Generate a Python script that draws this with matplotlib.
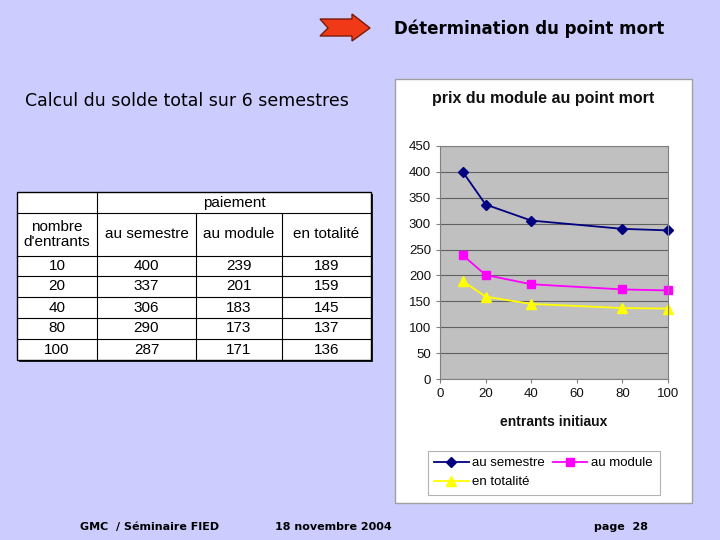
import matplotlib
matplotlib.use('Agg')
import matplotlib.pyplot as plt
from matplotlib.patches import Rectangle, Polygon

# Données du tableau / graphique
entrants = [10, 20, 40, 80, 100]
au_semestre = [400, 337, 306, 290, 287]
au_module = [239, 201, 183, 173, 171]
en_totalite = [189, 159, 145, 137, 136]
col_titres = ["au semestre", "au module", "en totalité"]
y_ticks = [0, 50, 100, 150, 200, 250, 300, 350, 400, 450]
x_ticks = [0, 20, 40, 60, 80, 100]

W, H = 720, 540
bg = '#CCCCFF'
fig = plt.figure(figsize=(W / 100, H / 100), dpi=100, facecolor=bg)

# Calque en pixels pour le texte de la diapo
ov = fig.add_axes([0, 0, 1, 1])
ov.set_xlim(0, W)
ov.set_ylim(H, 0)
ov.axis('off')

# Flèche rouge
arrow = [(320, 19), (352, 19), (352, 14), (370, 28), (352, 41), (352, 36), (320, 36), (328, 28)]
ov.add_patch(Polygon(arrow, closed=True, facecolor='#F03A17', edgecolor='#7A1A0A', lw=1))
ov.text(664, 29, "Détermination du point mort", ha='right', va='center',
        fontsize=12, fontweight='bold', family='DejaVu Sans')
ov.text(25, 101, "Calcul du solde total sur 6 semestres", ha='left', va='center',
        fontsize=12.5, family='DejaVu Sans')

# Tableau
cx = [17, 97, 196, 282, 371]
ry = [192, 213, 256, 276, 297, 318, 339, 360]
ov.add_patch(Rectangle((cx[0] + 2, ry[0] + 2), cx[-1] - cx[0], ry[-1] - ry[0],
                       facecolor='#202020', edgecolor='none'))
ov.add_patch(Rectangle((cx[0], ry[0]), cx[-1] - cx[0], ry[-1] - ry[0],
                       facecolor='white', edgecolor='black', lw=1))
lc = 'black'
for x in cx[1:-1]:
    ov.plot([x, x], [ry[1] if x != cx[1] else ry[0], ry[-1]], color=lc, lw=0.8)
for y in ry[1:-1]:
    ov.plot([cx[0], cx[-1]], [y, y], color=lc, lw=0.8)
tf = dict(fontsize=11, family='Liberation Sans', ha='center', va='center')
ov.text((cx[1] + cx[-1]) / 2, (ry[0] + ry[1]) / 2, "paiement", **tf)
ov.text((cx[0] + cx[1]) / 2, (ry[1] + ry[2]) / 2, "nombre\nd'entrants", linespacing=1.1, **tf)
for j, t in enumerate(col_titres):
    ov.text((cx[j + 1] + cx[j + 2]) / 2, (ry[1] + ry[2]) / 2, t, **tf)
for i, e in enumerate(entrants):
    yc = (ry[i + 2] + ry[i + 3]) / 2
    ov.text((cx[0] + cx[1]) / 2, yc, str(e), **tf)
    for j, serie in enumerate([au_semestre, au_module, en_totalite]):
        ov.text((cx[j + 1] + cx[j + 2]) / 2, yc, str(serie[i]), **tf)

# Cadre du graphique
ov.add_patch(Rectangle((395, 79), 297, 424, facecolor='white', edgecolor='#A0A0A0', lw=1))
ov.text(543, 99, "prix du module au point mort", ha='center', va='center',
        fontsize=11.5, fontweight='bold', family='Liberation Sans', color='#111111')
ov.text(554, 422, "entrants initiaux", ha='center', va='center',
        fontsize=10, fontweight='bold', family='Liberation Sans', color='#111111')

# Pied de page
ff = dict(fontsize=8, fontweight='bold', family='DejaVu Sans', va='center')
ov.text(80, 527, "GMC  / Séminaire FIED", ha='left', **ff)
ov.text(275, 527, "18 novembre 2004", ha='left', **ff)
ov.text(648, 527, "page  28", ha='right', **ff)

# Graphique
ax = fig.add_axes([440 / W, 1 - 379 / H, 228 / W, 233 / H])
ax.set_facecolor('#C0C0C0')
ax.set_xlim(0, 100)
ax.set_ylim(0, 450)
ax.set_xticks(x_ticks)
ax.set_yticks(y_ticks)
ax.yaxis.grid(True, color='#606060', lw=0.8)
ax.set_axisbelow(True)
for s in ax.spines.values():
    s.set_color('#808080')
ax.tick_params(labelsize=9.5, length=3, color='#808080', labelcolor='#111111')
for lab in ax.get_xticklabels() + ax.get_yticklabels():
    lab.set_family('Liberation Sans')

l1, = ax.plot(entrants, au_semestre, color='#000080', marker='D', ms=5, lw=1.3, label='au semestre', clip_on=False)
l2, = ax.plot(entrants, au_module, color='#FF00FF', marker='s', ms=6, lw=1.3, label='au module', clip_on=False)
l3, = ax.plot(entrants, en_totalite, color='#FFFF00', marker='^', ms=7, lw=1.3, label='en totalité', clip_on=False)

leg = fig.legend([l1, l3, l2], ['au semestre', 'en totalité', 'au module'], ncol=2,
                 loc='upper left', bbox_to_anchor=(421 / W, 1 - 444 / H),
                 frameon=True, fancybox=False, edgecolor='#A0A0A0',
                 prop={'family': 'Liberation Sans', 'size': 9.5}, handlelength=2.6,
                 columnspacing=0.6, handletextpad=0.3, borderpad=0.5, labelspacing=0.5)
leg.get_frame().set_linewidth(0.8)

fig.savefig('out.png', dpi=100, facecolor=bg)
